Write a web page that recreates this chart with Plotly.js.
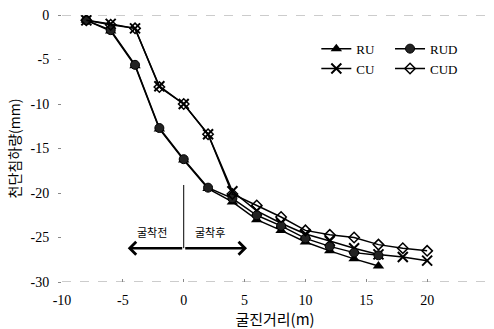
<!DOCTYPE html>
<html>
<head>
<meta charset="utf-8">
<script src="https://cdn.plot.ly/plotly-3.0.1.min.js"></script>
<style>
  html, body { margin: 0; padding: 0; background: #fff; }
  #chart { width: 494px; height: 329px; }
</style>
</head>
<body>
<div id="chart"></div>
<script>
// Tunnel face distance (m) and crown settlement (mm) per case
const xShort = [-8, -6, -4, -2, 0, 2, 4, 6, 8, 10, 12, 14, 16];
const xLong  = [-8, -6, -4, -2, 0, 2, 4, 6, 8, 10, 12, 14, 16, 18, 20];

const ruValues  = [-0.6, -1.8, -5.7, -12.8, -16.3, -19.5, -21.0, -23.0, -24.2, -25.5, -26.5, -27.4, -28.2];
const rudValues = [-0.6, -1.7, -5.6, -12.7, -16.2, -19.4, -20.6, -22.5, -23.7, -25.1, -26.0, -26.7, -27.0];
const cuValues  = [-0.6, -1.0, -1.5, -8.0, -10.0, -13.4, -19.8, -22.0, -23.4, -24.6, -25.4, -26.2, -26.9, -27.2, -27.6];
const cudValues = [-0.6, -1.1, -1.5, -8.1, -10.0, -13.4, -20.1, -21.4, -22.7, -24.2, -24.7, -25.0, -25.8, -26.2, -26.5];

const seriesNames = ['RU', 'RUD', 'CU', 'CUD'];
const xTicks = [-10, -5, 0, 5, 10, 15, 20, 25];
const yTicks = [0, -5, -10, -15, -20, -25, -30];

const serif = 'Liberation Serif, Noto Sans CJK KR, serif';
const kfont = 'Noto Sans CJK KR, sans-serif';

function trace(name, xs, ys, marker, legend) {
  return {
    type: 'scatter', mode: 'lines+markers', name: name,
    x: xs, y: ys, legend: legend,
    line: { color: '#000', width: 1.5 },
    marker: marker
  };
}

const data = [
  trace(seriesNames[0], xShort, ruValues,
        { symbol: 'triangle-up', size: 10, color: '#000' }, 'legend'),
  trace(seriesNames[2], xLong, cuValues,
        { symbol: 'x-thin-open', size: 10, color: '#000', line: { color: '#000', width: 2 } }, 'legend'),
  trace(seriesNames[1], xShort, rudValues,
        { symbol: 'circle', size: 9, color: '#222', line: { color: '#000', width: 1 } }, 'legend2'),
  trace(seriesNames[3], xLong, cudValues,
        { symbol: 'diamond-open', size: 8, color: '#000', line: { color: '#000', width: 1.5 } }, 'legend2')
];

const legendBase = {
  bgcolor: 'rgba(0,0,0,0)', borderwidth: 0, tracegroupgap: 0,
  font: { family: serif, size: 13, color: '#000' },
  xanchor: 'left', yanchor: 'top', y: 0.93
};

const layout = {
  width: 494, height: 329,
  margin: { l: 62, r: 6, t: 15, b: 47 },
  paper_bgcolor: '#fff', plot_bgcolor: '#fff',
  font: { family: serif, size: 13, color: '#000' },
  showlegend: true,
  legend: Object.assign({ x: 0.597 }, legendBase),
  legend2: Object.assign({ x: 0.77 }, legendBase),
  xaxis: {
    range: [-10, 25], tickvals: xTicks, ticktext: xTicks.map(String),
    showgrid: false, zeroline: false, showline: false,
    ticks: 'inside', ticklen: 3, tickcolor: '#888', ticklabelstandoff: 8,
    tickfont: { family: serif, size: 14, color: '#000' },
    title: { text: '굴진거리(m)', font: { family: kfont, size: 15, color: '#000' }, standoff: 2 }
  },
  yaxis: {
    range: [-30, 0], tickvals: yTicks, ticktext: yTicks.map(String),
    showgrid: false, zeroline: false, showline: false,
    ticks: 'outside', ticklen: 3, tickcolor: '#888', ticklabelstandoff: 6,
    tickfont: { family: serif, size: 14, color: '#000' },
    title: { text: '천단침하량(mm)', font: { family: kfont, size: 14, color: '#000' }, standoff: 6 }
  },
  shapes: [
    { type: 'line', xref: 'paper', yref: 'y', x0: 0, x1: 1, y0: 0, y1: 0,
      line: { color: '#999', width: 1, dash: 'dash' }, layer: 'below' },
    { type: 'line', xref: 'paper', yref: 'y', x0: 0, x1: 1, y0: -30, y1: -30,
      line: { color: '#999', width: 1, dash: 'dash' }, layer: 'below' },
    { type: 'line', xref: 'x', yref: 'y', x0: 0, x1: 0, y0: -19.1, y1: -26.2,
      line: { color: '#000', width: 1 } }
  ],
  annotations: [
    { x: -4.6, y: -26.2, ax: 0, ay: -26.2, axref: 'x', ayref: 'y', xref: 'x', yref: 'y',
      text: '', showarrow: true, arrowhead: 4, arrowsize: 1, arrowwidth: 2.5, arrowcolor: '#000' },
    { x: 5.2, y: -26.2, ax: 0, ay: -26.2, axref: 'x', ayref: 'y', xref: 'x', yref: 'y',
      text: '', showarrow: true, arrowhead: 4, arrowsize: 1, arrowwidth: 2.5, arrowcolor: '#000' },
    { x: -2.6, y: -24.4, xref: 'x', yref: 'y', text: '굴착전', showarrow: false,
      font: { family: kfont, size: 11, color: '#000' } },
    { x: 2.2, y: -24.4, xref: 'x', yref: 'y', text: '굴착후', showarrow: false,
      font: { family: kfont, size: 11, color: '#000' } }
  ]
};

Plotly.newPlot('chart', data, layout, { displayModeBar: false, staticPlot: true });
</script>
</body>
</html>
